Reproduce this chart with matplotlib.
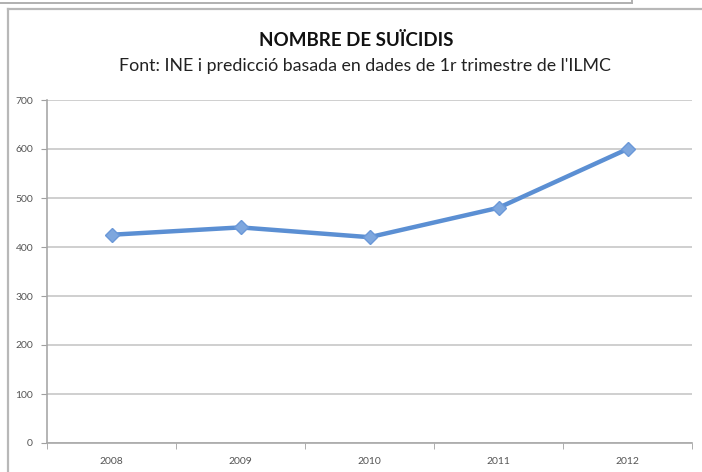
import matplotlib
matplotlib.use("Agg")
import matplotlib.pyplot as plt
from matplotlib.lines import Line2D

years = ["2008", "2009", "2010", "2011", "2012"]
suicides = [425, 440, 420, 480, 600]
yticks = [0, 100, 200, 300, 400, 500, 600, 700]
title = "NOMBRE DE SUÏCIDIS"
subtitle = "Font: INE i predicció basada en dades de 1r trimestre de l'ILMC"

plt.rcParams['font.family'] = ['Lato', 'DejaVu Sans']

W, H = 702, 472
fig = plt.figure(figsize=(W / 100, H / 100), dpi=100)
fig.patch.set_facecolor("white")

def fx(px):
    return px / W

def fy(py):
    return 1 - py / H

# outer frames
fig.add_artist(Line2D([fx(8), fx(8)], [fy(9), fy(472)], color="#b8b8b8", lw=1.6))
fig.add_artist(Line2D([fx(8), fx(702)], [fy(9), fy(9)], color="#b8b8b8", lw=1.6))
fig.add_artist(Line2D([fx(0), fx(632)], [fy(3), fy(3)], color="#b0b0b0", lw=1.4))
fig.add_artist(Line2D([fx(632), fx(632)], [fy(3), fy(0)], color="#b0b0b0", lw=1.4))

ax = fig.add_axes([fx(47), fy(443), fx(692) - fx(47), fy(100) - fy(443)])
x = list(range(len(years)))
ax.plot(x, suicides, color="#5b8fd3", lw=3.2, marker="D", markersize=7,
        markerfacecolor="#7ea7de", markeredgecolor="#6a98d8", zorder=3)

ax.set_xlim(-0.5, len(years) - 0.5)
ax.set_ylim(0, 700)
ax.set_yticks(yticks)
ax.set_yticklabels([str(v) for v in yticks], fontsize=7.5, color="#555555")
ax.set_xticks(x)
ax.set_xticklabels(years, fontsize=7.5, color="#555555")
ax.set_xticks([i - 0.5 for i in range(len(years) + 1)], minor=True)
ax.tick_params(axis="x", which="major", length=0, pad=10)
ax.tick_params(axis="x", which="minor", length=4, color="#a0a0a0", direction="out")
ax.tick_params(axis="y", length=4, color="#a0a0a0", pad=6)
ax.grid(axis="y", color="#cccccc", lw=1.3)
ax.set_axisbelow(True)
for s in ["top", "right"]:
    ax.spines[s].set_visible(False)
ax.spines["left"].set_color("#a8a8a8")
ax.spines["bottom"].set_color("#a8a8a8")
ax.spines["left"].set_linewidth(1.2)
ax.spines["bottom"].set_linewidth(1.2)

fig.text(fx(356), fy(40), title, ha="center", va="center", fontsize=13.5,
         fontweight="bold", color="#111111")
fig.text(fx(365), fy(66), subtitle, ha="center", va="center", fontsize=12.8,
         color="#222222")

fig.savefig("out.png", dpi=100, facecolor="white")
